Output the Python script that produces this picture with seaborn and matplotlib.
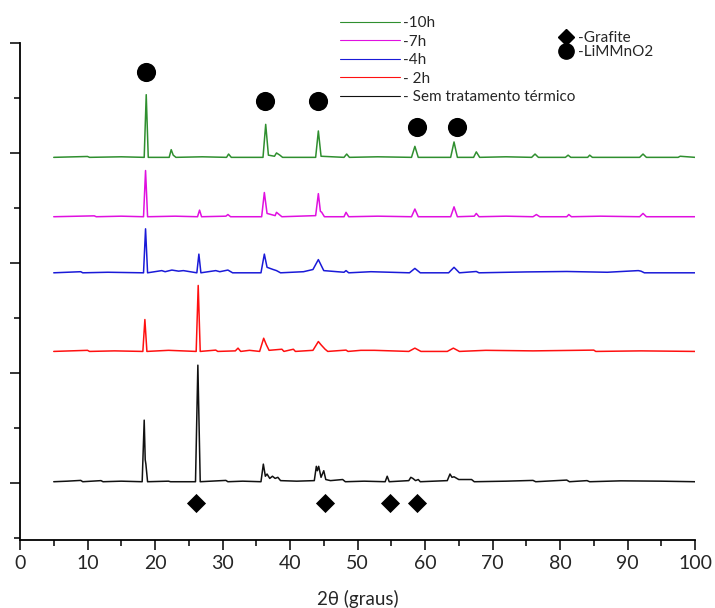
import numpy as np
import pandas as pd
import seaborn as sns
import matplotlib.pyplot as plt
from matplotlib.lines import Line2D
from matplotlib.ticker import MultipleLocator

# difratogramas (2theta, intensidade relativa acima da linha de base)
sem_x = [5, 7, 9, 9.3, 12, 12.3, 15, 18.1, 18.4, 18.55, 18.65, 18.9, 22, 22.3, 26.0, 26.35, 26.7,
         30.5, 30.8, 33, 35.7, 36.05, 36.35, 36.6, 37.0, 37.4, 37.8, 38.2, 38.6, 41, 43.6, 43.9,
         44.05, 44.25, 44.6, 45.0, 45.3, 46, 47.8, 48.2, 51, 54.1, 54.4, 54.7, 57.6, 57.9, 58.2,
         58.6, 59.0, 59.3, 63.3, 63.7, 64.0, 64.3, 65.0, 66.9, 67.3, 72, 76, 76.4, 81, 81.4, 84,
         84.4, 89, 95, 100]
sem_y = [0, 0.005, 0.012, 0, 0.01, 0, 0.005, 0, 0.56, 0.2, 0.16, 0, 0.005, 0, 0, 1.06, 0,
         0.012, 0, 0.005, 0, 0.16, 0.05, 0.07, 0.03, 0.05, 0.03, 0.04, 0.01, 0.005, 0.01, 0.14,
         0.1, 0.14, 0.04, 0.1, 0.02, 0.01, 0.02, 0, 0.005, 0, 0.05, 0, 0.01, 0.04, 0.03,
         0.01, 0.02, 0, 0.01, 0.07, 0.04, 0.045, 0.02, 0.02, 0, 0.005, 0.012, 0, 0.015, 0, 0.01,
         0, 0.008, 0.005, 0]

h2_x = [5, 10, 10.3, 14, 18.2, 18.5, 18.8, 22, 26.1, 26.4, 26.7, 29, 29.3, 31.9, 32.3, 32.7,
        34, 35.5, 36.1, 36.5, 36.9, 38.8, 39.1, 40.5, 40.8, 43.4, 43.8, 44.2, 44.6, 45.2, 45.6,
        48.3, 48.6, 50.5, 52.5, 57.6, 58.5, 59.4, 63.3, 64.2, 65.1, 69, 76, 85, 85.3, 92, 100]
h2_y = [0, 0.01, 0, 0.005, 0, 0.29, 0, 0.01, 0, 0.60, 0, 0.012, 0, 0.005, 0.03, 0,
        0.01, 0, 0.12, 0.06, 0.01, 0.02, 0, 0.02, 0, 0.01, 0.05, 0.09, 0.06, 0.02, 0,
        0.012, 0, 0.01, 0.01, 0, 0.03, 0, 0, 0.03, 0, 0.01, 0.005, 0.012, 0, 0.005, 0]

h4_x = [5, 9, 9.3, 13, 18.3, 18.6, 18.9, 21, 21.5, 22.5, 23.5, 24.2, 26.2, 26.5, 26.8, 29, 29.6,
        30.8, 31.5, 35.7, 36.2, 36.6, 37.5, 38.0, 38.6, 42, 43.4, 44.2, 45.0, 48.0, 48.3, 48.7,
        52, 57.7, 58.5, 59.3, 63.5, 64.3, 65.1, 67.6, 68, 75, 81, 87, 91.6, 92, 92.5, 100]
h4_y = [0, 0.01, 0, 0.005, 0, 0.40, 0, 0.02, 0.01, 0.025, 0.015, 0.02, 0, 0.17, 0, 0.02, 0.01,
        0.025, 0, 0, 0.17, 0.05, 0.03, 0.02, 0, 0.01, 0.03, 0.12, 0.02, 0.005, 0.02, 0,
        0.01, 0, 0.04, 0, 0, 0.05, 0, 0.012, 0, 0.008, 0.012, 0.005, 0.02, 0.015, 0, 0]

h7_x = [5, 11, 11.3, 15, 18.3, 18.6, 18.9, 23, 26.3, 26.6, 26.9, 30.5, 30.8, 31.2, 35.8, 36.2,
        36.6, 37.8, 38.0, 38.4, 38.8, 43.8, 44.2, 44.5, 44.7, 45.1, 48.0, 48.3, 48.7, 53, 58.0,
        58.5, 59.0, 63.8, 64.3, 64.8, 67.3, 67.6, 68.0, 72, 76.0, 76.5, 77.0, 81.0, 81.3, 81.7,
        86, 91.8, 92.3, 92.8, 100]
h7_y = [0, 0.008, 0, 0.005, 0, 0.42, 0, 0.005, 0, 0.06, 0, 0.005, 0.02, 0, 0, 0.22,
        0.03, 0.01, 0.04, 0.02, 0, 0.01, 0.21, 0.05, 0.04, 0, 0, 0.04, 0, 0.005, 0,
        0.07, 0, 0, 0.09, 0, 0.005, 0.03, 0, 0.005, 0, 0.02, 0, 0, 0.02, 0,
        0.005, 0, 0.03, 0, 0]

h10_x = [5, 10, 10.3, 15, 18.4, 18.7, 19.0, 22.1, 22.4, 22.7, 23.1, 27, 30.6, 30.9, 31.3, 36.0,
         36.4, 36.8, 37.7, 38.0, 38.5, 38.9, 43.8, 44.2, 44.6, 48.0, 48.4, 48.8, 53, 58.0, 58.5,
         59.0, 63.8, 64.3, 64.8, 67.2, 67.6, 68.1, 72, 75.8, 76.3, 76.8, 80.8, 81.2, 81.6, 84.1,
         84.4, 84.8, 91.8, 92.3, 92.8, 97.5, 97.8, 100]
h10_y = [0, 0.008, 0, 0.005, 0, 0.57, 0, 0, 0.07, 0.02, 0, 0.005, 0, 0.03, 0, 0,
         0.30, 0.02, 0.01, 0.04, 0.02, 0, 0, 0.24, 0.01, 0, 0.03, 0, 0.005, 0, 0.10,
         0, 0, 0.14, 0, 0, 0.05, 0, 0.005, 0, 0.03, 0, 0, 0.02, 0, 0,
         0.02, 0, 0, 0.03, 0, 0, 0.01, 0]

series_x = [sem_x, h2_x, h4_x, h7_x, h10_x]
series_y = [sem_y, h2_y, h4_y, h7_y, h10_y]
labels = ["- Sem tratamento térmico", "- 2h", "-4h", "-7h", "-10h"]
desloc = [0.01, 1.195, 1.91, 2.42, 2.96]
cores = ["#111111", "#ff1010", "#1a1ad8", "#e010e0", "#2f8f2f"]

# picos identificados
limmno2_x = [18.7, 36.3, 44.1, 58.8, 64.7]
limmno2_y = [3.74, 3.47, 3.47, 3.24, 3.24]
grafite_x = [26.1, 45.2, 54.8, 58.8]
grafite_y = [-0.18, -0.18, -0.18, -0.18]

sns.set_style("ticks")
plt.rcParams["font.family"] = ["Lato", "DejaVu Sans"]

fig = plt.figure(figsize=(7.15, 6.08), dpi=100)
ax = fig.add_axes([20 / 715, 68 / 608, 675 / 715, 497 / 608])

for xs, ys, off, cor in zip(series_x, series_y, desloc, cores):
    df = pd.DataFrame({"2theta": xs, "I": np.array(ys) + off})
    sns.lineplot(data=df, x="2theta", y="I", ax=ax, color=cor, lw=1.1, sort=False)

sns.scatterplot(x=limmno2_x, y=limmno2_y, ax=ax, marker="o", s=190, color="black",
                edgecolor="black", linewidth=0, zorder=5)
sns.scatterplot(x=grafite_x, y=grafite_y, ax=ax, marker="D", s=95, color="black",
                edgecolor="black", linewidth=0, zorder=5)

ax.set_xlim(0, 100)
ax.set_ylim(-0.52, 4.0)
ax.xaxis.set_major_locator(MultipleLocator(10))
ax.xaxis.set_minor_locator(MultipleLocator(5))
ax.yaxis.set_major_locator(MultipleLocator(1))
ax.yaxis.set_minor_locator(MultipleLocator(0.5))
ax.tick_params(axis="both", which="major", direction="out", length=7, width=1.3, labelsize=14)
ax.tick_params(axis="both", which="minor", direction="out", length=4, width=1.3)
ax.tick_params(axis="y", labelleft=False)
for s in ["left", "bottom"]:
    ax.spines[s].set_linewidth(1.3)
    ax.spines[s].set_color("black")
sns.despine(ax=ax)
ax.set_xlabel("2θ (graus)", fontsize=13.5, labelpad=13)
ax.set_ylabel("")

# legenda das amostras
h_linhas = [Line2D([], [], color=c, lw=0.8) for c in cores[::-1]]
fig.legend(h_linhas, labels[::-1], loc="upper left", bbox_to_anchor=(340 / 715, 1 - 16 / 608),
           frameon=False, fontsize=11, handlelength=3.9, handletextpad=0.25,
           labelspacing=0.3, borderpad=0, borderaxespad=0)

# legenda das fases
h_fases = [Line2D([], [], color="black", marker="D", ls="", markersize=8),
           Line2D([], [], color="black", marker="o", ls="", markersize=11)]
fig.legend(h_fases, ["-Grafite", "-LiMMnO2"], loc="upper left",
           bbox_to_anchor=(558 / 715, 1 - 31 / 608), frameon=False, fontsize=11,
           handlelength=1.0, handletextpad=0.3, labelspacing=0.0, borderpad=0, borderaxespad=0)

fig.savefig("out.png", dpi=100)
